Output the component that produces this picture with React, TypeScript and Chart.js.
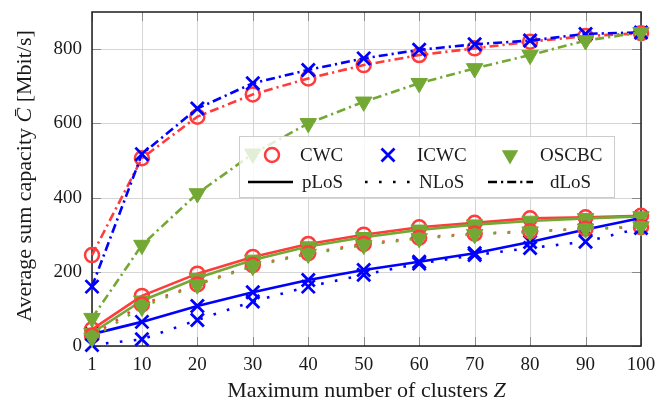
import React, { useEffect, useRef } from 'react';
import { Chart, registerables } from 'chart.js';

Chart.register(...registerables);

// ---- data ----
const clusters = [1, 10, 20, 30, 40, 50, 60, 70, 80, 90, 100];
const yTicks = [0, 200, 400, 600, 800];

const cwcPLoS = [45, 135, 195, 240, 275, 300, 320, 332, 344, 347, 351];
const cwcNLoS = [28, 112, 166, 218, 250, 275, 292, 303, 309, 316, 320];
const cwcDLoS = [245, 506, 618, 678, 721, 757, 784, 802, 820, 835, 843];

const icwcPLoS = [32, 65, 108, 145, 178, 205, 227, 250, 280, 314, 345];
const icwcNLoS = [3, 18, 70, 120, 160, 192, 222, 245, 264, 281, 318];
const icwcDLoS = [160, 517, 640, 708, 744, 775, 798, 813, 823, 841, 845];

const oscPLoS = [35, 122, 183, 232, 268, 293, 313, 327, 337, 344, 349];
const oscNLoS = [22, 105, 165, 215, 248, 272, 290, 301, 308, 316, 322];
const oscDLoS = [75, 272, 411, 518, 600, 658, 708, 748, 784, 823, 845];

const schemes = ['CWC', 'ICWC', 'OSCBC'];
const losTypes = ['pLoS', 'NLoS', 'dLoS'];

// ---- styles ----
const RED = '#ff3b3b';
const BLUE = '#0000ff';
const GREEN = '#74a834';
const FONT = "'Liberation Serif', 'Times New Roman', serif";
const DASH: Record<string, number[]> = { p: [], n: [2.6, 11.4], d: [9, 4, 2.2, 4] };

type Marker = 'circle' | 'cross' | 'tri';

function makeDs(label: string, vals: number[], color: string, kind: string, marker: Marker, idx: number) {
  const base: any = {
    label,
    data: clusters.map((c, i) => ({ x: c, y: vals[i] })),
    borderColor: color,
    backgroundColor: color,
    borderWidth: 2.6,
    borderDash: DASH[kind],
    borderCapStyle: 'butt',
    tension: 0,
    fill: false,
    clip: false,
    order: 100 - idx,
    pointBorderColor: color,
  };
  if (marker === 'circle') {
    base.pointStyle = 'circle';
    base.pointRadius = 7;
    base.pointBorderWidth = 2.5;
    base.pointBackgroundColor = 'rgba(0,0,0,0)';
  } else if (marker === 'cross') {
    base.pointStyle = 'crossRot';
    base.pointRadius = 9.2;
    base.pointBorderWidth = 2.8;
  } else {
    base.pointStyle = 'triangle';
    base.pointRotation = 180;
    base.pointRadius = 9.5;
    base.pointBorderWidth = 1;
    base.pointBackgroundColor = color;
  }
  return base;
}

function drawMarker(ctx: CanvasRenderingContext2D, m: Marker, x: number, y: number, color: string) {
  ctx.save();
  ctx.setLineDash([]);
  if (m === 'circle') {
    ctx.strokeStyle = color;
    ctx.lineWidth = 2.5;
    ctx.beginPath();
    ctx.arc(x, y, 7, 0, Math.PI * 2);
    ctx.stroke();
  } else if (m === 'cross') {
    const h = 6.5;
    ctx.strokeStyle = color;
    ctx.lineWidth = 2.8;
    ctx.beginPath();
    ctx.moveTo(x - h, y - h); ctx.lineTo(x + h, y + h);
    ctx.moveTo(x - h, y + h); ctx.lineTo(x + h, y - h);
    ctx.stroke();
  } else {
    const r = 9.5;
    ctx.fillStyle = color;
    ctx.beginPath();
    ctx.moveTo(x, y + r);
    ctx.lineTo(x - r * Math.cos(Math.PI / 6), y - r / 2);
    ctx.lineTo(x + r * Math.cos(Math.PI / 6), y - r / 2);
    ctx.closePath();
    ctx.fill();
  }
  ctx.restore();
}

const gridPlugin = {
  id: 'gridFrame',
  beforeDatasetsDraw(chart: any) {
    const { ctx, chartArea: a, scales } = chart;
    const x = scales.x, y = scales.y;
    ctx.save();
    ctx.setLineDash([]);
    ctx.lineWidth = 1;
    ctx.strokeStyle = '#d5d5d5';
    ctx.beginPath();
    for (const v of clusters) {
      const px = Math.round(x.getPixelForValue(v)) + 0.5;
      ctx.moveTo(px, a.top); ctx.lineTo(px, a.bottom);
    }
    for (const v of yTicks) {
      const py = Math.round(y.getPixelForValue(v)) + 0.5;
      ctx.moveTo(a.left, py); ctx.lineTo(a.right, py);
    }
    ctx.stroke();
    ctx.strokeStyle = '#8a8a8a';
    ctx.beginPath();
    const tl = 9;
    for (const v of clusters) {
      const px = Math.round(x.getPixelForValue(v)) + 0.5;
      ctx.moveTo(px, a.bottom); ctx.lineTo(px, a.bottom - tl);
      ctx.moveTo(px, a.top); ctx.lineTo(px, a.top + tl);
    }
    for (const v of yTicks) {
      const py = Math.round(y.getPixelForValue(v)) + 0.5;
      ctx.moveTo(a.left, py); ctx.lineTo(a.left + tl, py);
      ctx.moveTo(a.right, py); ctx.lineTo(a.right - tl, py);
    }
    ctx.stroke();
    ctx.strokeStyle = '#1c1c1c';
    ctx.lineWidth = 1.5;
    ctx.strokeRect(a.left, a.top, a.right - a.left, a.bottom - a.top);
    ctx.restore();
  },
};

const legendPlugin = {
  id: 'customLegend',
  afterDatasetsDraw(chart: any) {
    const { ctx } = chart;
    ctx.save();
    const L = 239.5, T = 136.5, W = 375, H = 61;
    ctx.fillStyle = 'rgba(255,255,255,0.8)';
    ctx.fillRect(L, T, W, H);
    ctx.strokeStyle = '#cccccc';
    ctx.lineWidth = 1;
    ctx.strokeRect(L, T, W, H);

    const row1 = 155, row2 = 182;
    const markers: Marker[] = ['circle', 'cross', 'tri'];
    const colors = [RED, BLUE, GREEN];
    const mx = [272, 388, 510];
    const tx1 = [300, 417, 540];
    ctx.font = `19px ${FONT}`;
    ctx.textBaseline = 'middle';
    ctx.textAlign = 'left';
    for (let i = 0; i < 3; i++) {
      drawMarker(ctx, markers[i], mx[i], row1, colors[i]);
      ctx.fillStyle = '#1a1a1a';
      ctx.fillText(schemes[i], tx1[i], row1 + 1);
    }
    const lx = [[248, 293], [365, 410], [488, 533]];
    const tx2 = [302, 419, 550];
    const dashes = [DASH.p, DASH.n, DASH.d];
    for (let i = 0; i < 3; i++) {
      ctx.save();
      ctx.strokeStyle = '#000';
      ctx.lineWidth = 2.6;
      ctx.setLineDash(dashes[i]);
      ctx.beginPath();
      ctx.moveTo(lx[i][0], row2); ctx.lineTo(lx[i][1], row2);
      ctx.stroke();
      ctx.restore();
      ctx.fillStyle = '#1a1a1a';
      ctx.fillText(losTypes[i], tx2[i], row2 + 1);
    }
    ctx.restore();
  },
};

function drawSegments(ctx: CanvasRenderingContext2D, segs: [string, boolean][], size: number, cx: number, baseline: number) {
  let total = 0;
  const widths: number[] = [];
  for (const [t, it] of segs) {
    ctx.font = `${it ? 'italic ' : ''}${size}px ${FONT}`;
    const w = ctx.measureText(t).width;
    widths.push(w);
    total += w;
  }
  let x = cx - total / 2;
  segs.forEach(([t, it], i) => {
    ctx.font = `${it ? 'italic ' : ''}${size}px ${FONT}`;
    ctx.fillText(t, x, baseline);
    x += widths[i];
  });
}

const titlePlugin = {
  id: 'titles',
  afterDraw(chart: any) {
    const { ctx, chartArea: a } = chart;
    ctx.save();
    ctx.fillStyle = '#1a1a1a';
    ctx.textBaseline = 'alphabetic';
    ctx.textAlign = 'left';
    drawSegments(ctx, [['Maximum number of clusters ', false], ['Z', true]], 22, (a.left + a.right) / 2, 397);
    ctx.translate(31, (a.top + a.bottom) / 2 - 3);
    ctx.rotate(-Math.PI / 2);
    drawSegments(ctx, [['Average sum capacity ', false], ['C\u0304', true], [' [Mbit/s]', false]], 22, 0, 0);
    ctx.restore();
  },
};

export default function App() {
  const ref = useRef<HTMLCanvasElement | null>(null);
  useEffect(() => {
    if (!ref.current) return;
    const datasets = [
      makeDs('CWC pLoS', cwcPLoS, RED, 'p', 'circle', 0),
      makeDs('ICWC pLoS', icwcPLoS, BLUE, 'p', 'cross', 1),
      makeDs('OSCBC pLoS', oscPLoS, GREEN, 'p', 'tri', 2),
      makeDs('CWC NLoS', cwcNLoS, RED, 'n', 'circle', 3),
      makeDs('ICWC NLoS', icwcNLoS, BLUE, 'n', 'cross', 4),
      makeDs('OSCBC NLoS', oscNLoS, GREEN, 'n', 'tri', 5),
      makeDs('CWC dLoS', cwcDLoS, RED, 'd', 'circle', 6),
      makeDs('ICWC dLoS', icwcDLoS, BLUE, 'd', 'cross', 7),
      makeDs('OSCBC dLoS', oscDLoS, GREEN, 'd', 'tri', 8),
    ];
    const chart = new Chart(ref.current, {
      type: 'line',
      data: { datasets },
      options: {
        responsive: false,
        animation: false,
        devicePixelRatio: 1,
        layout: { padding: { left: 0, top: 12, right: 28, bottom: 0 } },
        plugins: { legend: { display: false }, tooltip: { enabled: false }, title: { display: false } },
        scales: {
          x: {
            type: 'linear',
            min: 1,
            max: 100,
            grid: { display: false, drawTicks: false },
            border: { display: false },
            afterBuildTicks: (s: any) => { s.ticks = clusters.map((v) => ({ value: v })); },
            afterFit: (s: any) => { s.height = 57; s.paddingLeft = 0; s.paddingRight = 0; },
            ticks: {
              padding: 8,
              autoSkip: false,
              maxRotation: 0,
              color: '#1a1a1a',
              font: { family: FONT, size: 19 },
              callback: (v: any) => String(v),
            },
          },
          y: {
            type: 'linear',
            min: 0,
            max: 900,
            grid: { display: false, drawTicks: false },
            border: { display: false },
            afterBuildTicks: (s: any) => { s.ticks = yTicks.map((v) => ({ value: v })); },
            afterFit: (s: any) => { s.width = 92; s.paddingTop = 0; s.paddingBottom = 0; },
            ticks: {
              padding: 10,
              color: '#1a1a1a',
              font: { family: FONT, size: 19 },
              callback: (v: any) => String(v),
            },
          },
        },
      } as any,
      plugins: [gridPlugin, legendPlugin, titlePlugin],
    });
    return () => chart.destroy();
  }, []);
  return (
    <div style={{ position: 'absolute', left: 0, top: 0, width: 669, height: 403, background: '#fff' }}>
      <canvas ref={ref} width={669} height={403} style={{ display: 'block' }} />
    </div>
  );
}
